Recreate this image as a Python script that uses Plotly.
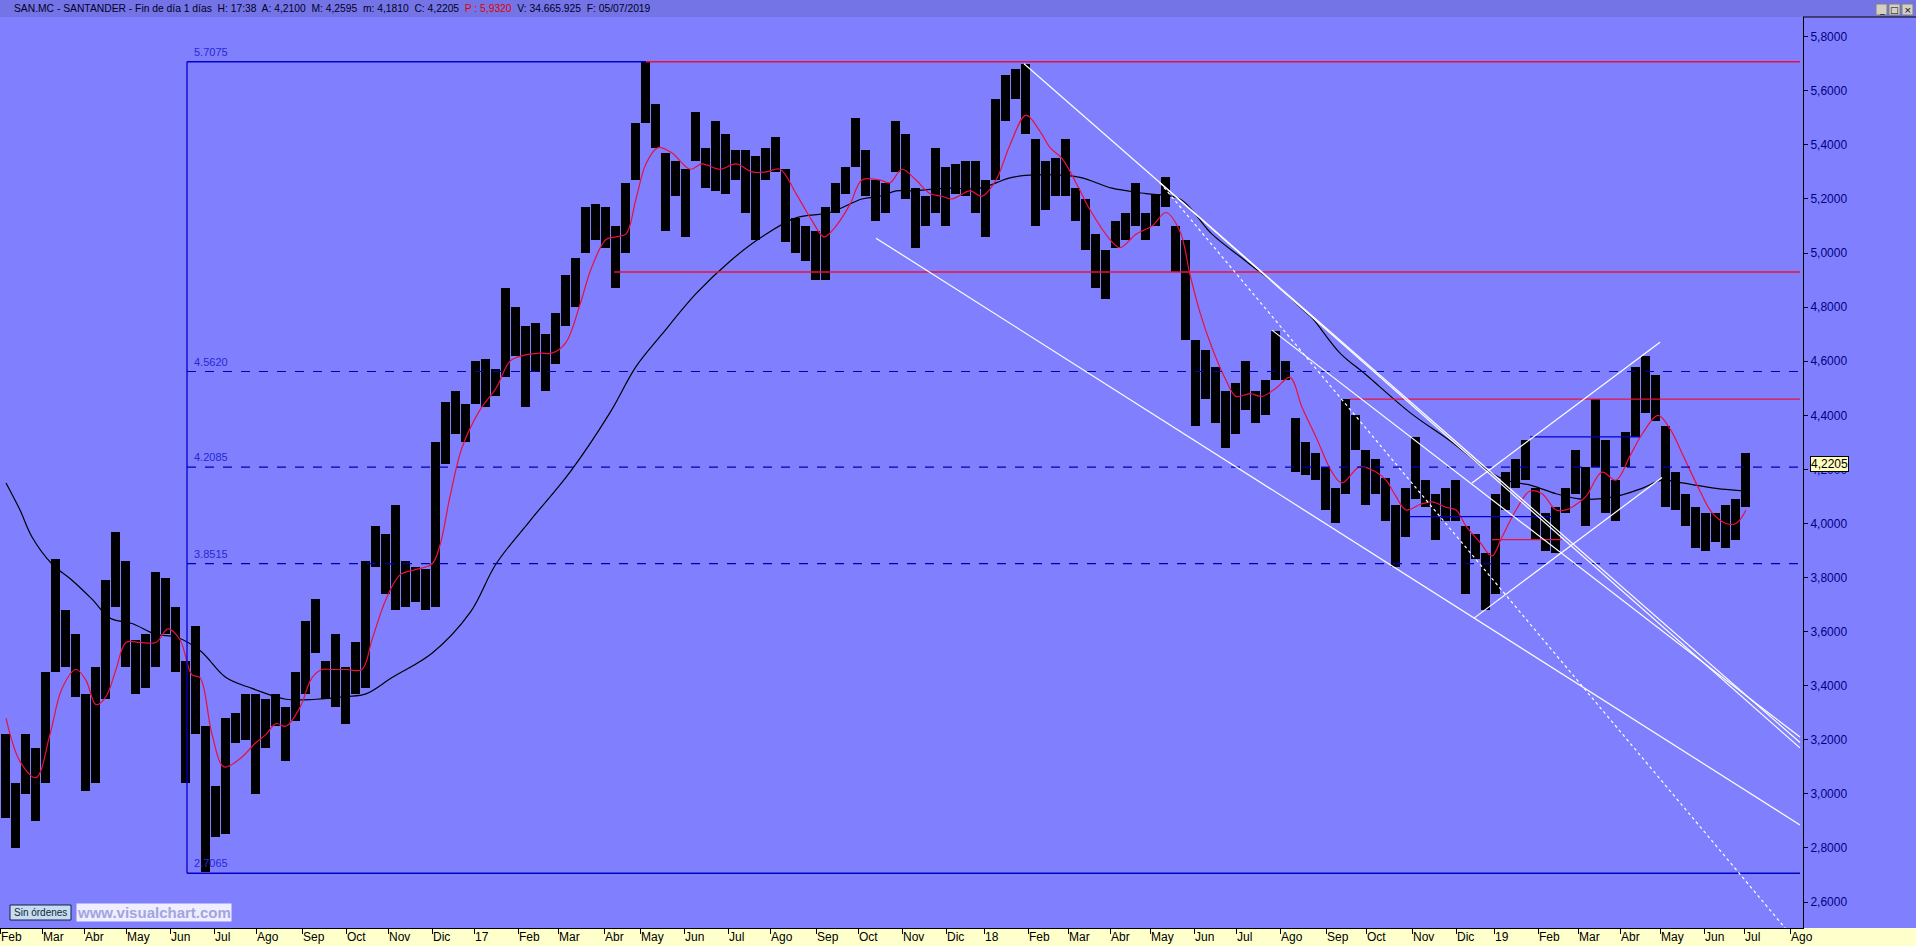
import pandas as pd
import plotly.graph_objects as go
from pandas.tseries.offsets import CustomBusinessDay

# ---------------- calendar (BME trading days) ----------------
first_day = "2016-02-01"
last_axis_day = "2019-08-30"
holidays = ["2016-03-25", "2016-03-28", "2016-12-26",
            "2017-04-14", "2017-04-17", "2017-05-01", "2017-12-25", "2017-12-26",
            "2018-01-01", "2018-03-30", "2018-04-02", "2018-05-01", "2018-12-25", "2018-12-26",
            "2019-01-01", "2019-04-19", "2019-04-22", "2019-05-01"]
month_abbr = ["Ene", "Feb", "Mar", "Abr", "May", "Jun", "Jul", "Ago", "Sep", "Oct", "Nov", "Dic"]

# ---------------- price data: 5-session periods (high / low) ----------------
bars_per_period = 5
period_high = [3.22, 3.04, 3.22, 3.17, 3.45, 3.87, 3.68, 3.59, 3.37, 3.47,
               3.79, 3.97, 3.86, 3.57, 3.59, 3.82, 3.80, 3.69, 3.49, 3.62,
               3.25, 3.03, 3.28, 3.30, 3.37, 3.37, 3.35, 3.37, 3.32, 3.45,
               3.64, 3.72, 3.49, 3.59, 3.47, 3.56, 3.86, 3.99, 3.96, 4.07,
               3.86, 3.84, 3.83, 4.30, 4.45, 4.49, 4.44, 4.60, 4.61, 4.57,
               4.87, 4.80, 4.73, 4.74, 4.70, 4.78, 4.92, 4.98, 5.17, 5.18,
               5.17, 5.10, 5.26, 5.48, 5.71, 5.55, 5.37, 5.34, 5.31, 5.52,
               5.39, 5.49, 5.44, 5.38, 5.38, 5.36, 5.39, 5.43, 5.31, 5.13,
               5.10, 5.08, 5.17, 5.26, 5.32, 5.50, 5.38, 5.27, 5.26, 5.49,
               5.44, 5.24, 5.21, 5.39, 5.32, 5.33, 5.34, 5.34, 5.27, 5.57,
               5.66, 5.68, 5.70, 5.42, 5.34, 5.35, 5.42, 5.24, 5.20, 5.07,
               5.01, 5.12, 5.15, 5.26, 5.15, 5.22, 5.28, 5.10, 5.05, 4.68,
               4.64, 4.58, 4.49, 4.52, 4.60, 4.49, 4.53, 4.71, 4.60, 4.39,
               4.30, 4.26, 4.21, 4.13, 4.46, 4.40, 4.27, 4.24, 4.17, 4.07,
               4.13, 4.32, 4.16, 4.11, 4.13, 4.16, 3.99, 3.96, 3.89, 4.11,
               4.19, 4.24, 4.31, 4.13, 4.04, 4.06, 4.13, 4.27, 4.21, 4.46,
               4.31, 4.16, 4.34, 4.58, 4.62, 4.55, 4.36, 4.19, 4.11, 4.06,
               4.04, 4.04, 4.07, 4.09, 4.26]
period_low = [2.91, 2.80, 3.00, 2.90, 3.04, 3.45, 3.47, 3.36, 3.01, 3.04,
              3.35, 3.69, 3.47, 3.37, 3.39, 3.47, 3.59, 3.45, 3.04, 3.22,
              2.71, 2.84, 2.85, 3.19, 3.20, 3.00, 3.17, 3.25, 3.12, 3.27,
              3.37, 3.52, 3.35, 3.32, 3.26, 3.37, 3.39, 3.84, 3.74, 3.68,
              3.69, 3.71, 3.68, 3.69, 4.22, 4.33, 4.30, 4.44, 4.43, 4.47,
              4.54, 4.62, 4.43, 4.56, 4.49, 4.59, 4.73, 4.80, 5.00, 5.05,
              5.02, 4.87, 5.00, 5.27, 5.48, 5.39, 5.08, 5.21, 5.06, 5.34,
              5.24, 5.23, 5.22, 5.27, 5.15, 5.05, 5.27, 5.30, 5.04, 5.00,
              4.97, 4.90, 4.90, 5.15, 5.22, 5.32, 5.21, 5.12, 5.15, 5.30,
              5.20, 5.02, 5.10, 5.15, 5.10, 5.22, 5.21, 5.15, 5.06, 5.27,
              5.49, 5.57, 5.44, 5.10, 5.16, 5.21, 5.21, 5.12, 5.01, 4.87,
              4.83, 5.02, 5.05, 5.10, 5.05, 5.10, 5.17, 4.93, 4.68, 4.36,
              4.46, 4.37, 4.28, 4.33, 4.42, 4.37, 4.40, 4.53, 4.53, 4.19,
              4.18, 4.16, 4.05, 4.00, 4.11, 4.27, 4.07, 4.11, 4.01, 3.84,
              3.95, 4.09, 4.06, 3.94, 4.01, 4.01, 3.74, 3.87, 3.68, 3.74,
              4.05, 4.13, 4.16, 3.94, 3.90, 3.89, 4.04, 4.11, 3.99, 4.21,
              4.04, 4.01, 4.21, 4.32, 4.41, 4.38, 4.06, 4.05, 3.99, 3.91,
              3.90, 3.93, 3.91, 3.94, 4.06]

# ---------------- moving averages (session number, value) ----------------
ma_fast_bar = [3, 10, 18, 25, 31, 38, 43, 48, 53, 58, 63, 70, 78, 84, 90, 96, 100, 106, 112, 120,
               128, 133, 138, 143, 150, 156, 161, 166, 173, 181, 186, 193, 200, 208, 216, 220, 225,
               231, 240, 248, 255, 261, 270, 276, 283, 290, 296, 303, 308, 313, 318, 323, 329, 336,
               345, 351, 360, 368, 376, 383, 390, 398, 406, 412, 418, 425, 431, 440, 445, 451, 458,
               465, 471, 476, 485, 491, 498, 505, 513, 520, 525, 531, 538, 545, 555, 560, 568, 576,
               583, 590, 595, 600, 606, 613, 618, 625, 631, 638, 645, 651, 658, 666, 671, 680, 688,
               693, 698, 703, 710, 716, 723, 728, 733, 740, 746, 751, 758, 765, 771, 778, 783, 788,
               793, 801, 808, 815, 821, 829, 835, 841, 850, 856, 863, 868, 873]
ma_fast_val = [3.28, 3.12, 3.06, 3.22, 3.39, 3.46, 3.42, 3.33, 3.36, 3.46, 3.56, 3.56, 3.56, 3.61,
               3.57, 3.44, 3.43, 3.22, 3.10, 3.13, 3.19, 3.22, 3.26, 3.25, 3.32, 3.43, 3.46, 3.46,
               3.46, 3.46, 3.57, 3.72, 3.81, 3.83, 3.85, 3.92, 4.10, 4.28, 4.42, 4.50, 4.60, 4.62,
               4.63, 4.63, 4.67, 4.81, 4.95, 5.05, 5.06, 5.07, 5.20, 5.33, 5.39, 5.37, 5.31, 5.33,
               5.31, 5.33, 5.30, 5.30, 5.31, 5.22, 5.12, 5.06, 5.10, 5.18, 5.27, 5.27, 5.26, 5.31,
               5.27, 5.22, 5.21, 5.20, 5.23, 5.21, 5.27, 5.40, 5.51, 5.45, 5.39, 5.35, 5.26, 5.16,
               5.05, 5.02, 5.07, 5.10, 5.15, 5.08, 4.92, 4.78, 4.65, 4.53, 4.47, 4.48, 4.47, 4.50,
               4.54, 4.43, 4.32, 4.19, 4.15, 4.21, 4.19, 4.16, 4.10, 4.05, 4.07, 4.08, 4.06, 4.05,
               3.99, 3.93, 3.88, 3.95, 4.05, 4.12, 4.11, 4.05, 4.05, 4.07, 4.10, 4.19, 4.16, 4.25,
               4.33, 4.40, 4.35, 4.26, 4.12, 4.04, 4.00, 4.00, 4.05]
ma_slow_bar = [3, 10, 16, 26, 36, 46, 55, 66, 78, 88, 100, 113, 126, 143, 158, 173, 183, 196, 216,
               235, 248, 265, 285, 305, 318, 331, 348, 365, 381, 398, 415, 431, 440, 448, 456, 473,
               490, 506, 523, 540, 556, 573, 590, 606, 623, 640, 650, 656, 670, 683, 705, 726, 743,
               753, 766, 778, 791, 808, 821, 831, 841, 858, 873]
ma_slow_val = [4.15, 4.05, 3.95, 3.85, 3.79, 3.72, 3.65, 3.63, 3.59, 3.58, 3.53, 3.43, 3.39, 3.35,
               3.35, 3.36, 3.37, 3.43, 3.52, 3.67, 3.85, 4.01, 4.19, 4.41, 4.58, 4.70, 4.85, 4.97,
               5.06, 5.13, 5.15, 5.20, 5.21, 5.23, 5.23, 5.24, 5.24, 5.28, 5.29, 5.28, 5.24, 5.22,
               5.20, 5.07, 4.97, 4.87, 4.80, 4.76, 4.63, 4.55, 4.41, 4.30, 4.20, 4.16, 4.14, 4.11,
               4.09, 4.10, 4.13, 4.16, 4.15, 4.13, 4.12]

# ---------------- drawings ----------------
fibo_start_bar = 93.5
fibo_top, fibo_bottom = 5.7075, 2.7065
fibo_top_end_bar = 323
fibo_dashed = [4.5620, 4.2085, 3.8515]
drawing_end_bar = 900
red_levels = [(323, 5.7075), (307, 4.93), (675, 4.46)]
red_short = [(746, 781, 3.94)]
blue_short = [(765, 820, 4.32), (705, 776, 4.025)]
white_lines = [((512, 5.70), (900, 3.19)),
               ((580, 5.26), (900, 3.17)),
               ((636, 4.715), (900, 3.21)),
               ((438, 5.055), (900, 2.885)),
               ((737, 3.65), (831, 4.17)),
               ((736, 4.15), (830, 4.67))]
white_dashed = [((580, 5.26), (893, 2.50))]
last_close = 4.2205

title_text = ("SAN.MC - SANTANDER - Fin de día 1 días  H: 17:38  A: 4,2100  M: 4,2595  "
              "m: 4,1810  C: 4,2205  <span style='color:#E00000'>P : 5,9320</span>  "
              "V: 34.665.925  F: 05/07/2019")

# ---------------- build ----------------
W, H = 1916, 946
ML, MR, MT, MB = 0, 113, 17, 18
PW, PH = W - ML - MR, H - MT - MB

cal = pd.date_range(first_day, last_axis_day, freq=CustomBusinessDay(holidays=holidays))
tickvals, ticktext = [], []
seen = set()
for i, d in enumerate(cal):
    key = (d.year, d.month)
    if key not in seen:
        seen.add(key)
        tickvals.append(i)
        ticktext.append(f"{d.year % 100:02d}" if d.month == 1 else month_abbr[d.month - 1])

px_x = [k * bars_per_period + bars_per_period / 2 for k in range(len(period_high))]
rng = [h - l for h, l in zip(period_high, period_low)]

fig = go.Figure()
fig.add_trace(go.Bar(x=px_x, y=rng, base=period_low, width=bars_per_period * 0.9,
                     marker=dict(color="#000000", line=dict(width=0))))
fig.add_trace(go.Scatter(x=ma_slow_bar, y=ma_slow_val, mode="lines",
                         line=dict(color="#000000", width=1.2, shape="spline")))
fig.add_trace(go.Scatter(x=ma_fast_bar, y=ma_fast_val, mode="lines",
                         line=dict(color="#E8103C", width=1.2, shape="spline")))

shapes = []
def seg(x0, y0, x1, y1, color, width=1.0, dash="solid"):
    shapes.append(dict(type="line", xref="x", yref="y", x0=x0, y0=y0, x1=x1, y1=y1,
                       line=dict(color=color, width=width, dash=dash), layer="above"))

blue = "#0000C8"
seg(fibo_start_bar, fibo_bottom, fibo_start_bar, fibo_top, blue, 1.3)
seg(fibo_start_bar, fibo_top, fibo_top_end_bar, fibo_top, blue, 1.3)
seg(fibo_start_bar, fibo_bottom, drawing_end_bar, fibo_bottom, blue, 1.3)
for lv in fibo_dashed:
    seg(fibo_start_bar, lv, PW / 2.0, lv, "#0000B0", 1.2, "dash")
for x0, lv in red_levels:
    seg(x0, lv, drawing_end_bar, lv, "#E8103C", 1.3)
for x0, x1, lv in red_short:
    seg(x0, lv, x1, lv, "#E8103C", 1.3)
for x0, x1, lv in blue_short:
    seg(x0, lv, x1, lv, blue, 1.3)
for (a, b) in white_lines:
    seg(a[0], a[1], b[0], b[1], "#FFFFFF", 1.2)
for (a, b) in white_dashed:
    seg(a[0], a[1], b[0], b[1], "#FFFFFF", 1.2, "3px,3px")

# paper-level decorations
def pxx(px):
    return (px - ML) / PW
def pxy(py):
    return (H - MB - py) / PH

shapes.append(dict(type="rect", xref="paper", yref="paper", x0=pxx(0), x1=pxx(W), y0=pxy(H), y1=pxy(H - MB),
                   fillcolor="#FFFFCC", line=dict(width=0), layer="below"))
shapes.append(dict(type="rect", xref="paper", yref="paper", x0=pxx(0), x1=pxx(W), y0=pxy(MT), y1=pxy(0),
                   fillcolor="#7474E6", line=dict(width=0), layer="below"))
shapes.append(dict(type="line", xref="paper", yref="paper", x0=pxx(ML + PW), x1=pxx(W), y0=pxy(MT), y1=pxy(MT),
                   line=dict(color="#000000", width=1)))
for bx in (1876, 1889, 1902):
    shapes.append(dict(type="rect", xref="paper", yref="paper", x0=pxx(bx), x1=pxx(bx + 11), y0=pxy(15), y1=pxy(4),
                       fillcolor="#D4D0C8", line=dict(color="#808080", width=1)))
shapes.append(dict(type="rect", xref="paper", yref="paper", x0=pxx(10), x1=pxx(71), y0=pxy(920), y1=pxy(905),
                   fillcolor="#C8DCF0", line=dict(color="#102040", width=1)))

annotations = []
annotations.append(dict(xref="paper", yref="paper", x=pxx(12), y=pxy(8.5), xanchor="left", yanchor="middle",
                        text=title_text, showarrow=False,
                        font=dict(family="Liberation Sans, Arial", size=10.3, color="#000028")))
for bx, sym in ((1876, "_"), (1889, "□"), (1902, "×")):
    annotations.append(dict(xref="paper", yref="paper", x=pxx(bx + 5.5), y=pxy(9.5), xanchor="center",
                            yanchor="middle", text=sym, showarrow=False,
                            font=dict(family="DejaVu Sans", size=9, color="#000000")))
for lv in [fibo_top] + fibo_dashed + [fibo_bottom]:
    annotations.append(dict(xref="x", yref="y", x=fibo_start_bar + 2.5, y=lv, xanchor="left", yanchor="bottom",
                            yshift=2, text=f"{lv:.4f}", showarrow=False,
                            font=dict(family="Liberation Sans, Arial", size=11, color="#2828D0")))
annotations.append(dict(xref="paper", yref="y", x=pxx(ML + PW + 7), y=last_close, xanchor="left", yanchor="middle",
                        text=f"{last_close:.4f}".replace(".", ","), showarrow=False, bgcolor="#FFFFC0",
                        bordercolor="#000000", borderwidth=1, borderpad=0,
                        font=dict(family="Liberation Sans, Arial", size=12, color="#000000")))
annotations.append(dict(xref="paper", yref="paper", x=pxx(40.5), y=pxy(912.5), xanchor="center", yanchor="middle",
                        text="Sin órdenes", showarrow=False,
                        font=dict(family="Liberation Sans, Arial", size=10, color="#0A2A3A")))
annotations.append(dict(xref="paper", yref="paper", x=pxx(76), y=pxy(912), xanchor="left", yanchor="middle",
                        text="<b>www.visualchart.com</b>", showarrow=False, bgcolor="#EEEEFF", borderpad=0,
                        font=dict(family="Liberation Sans, Arial", size=15, color="#A4A4E0")))

fig.update_layout(
    width=W, height=H, margin=dict(l=ML, r=MR, t=MT, b=MB, pad=0, autoexpand=False),
    paper_bgcolor="#8080FF", plot_bgcolor="#8080FF", showlegend=False,
    separators=",.", hovermode=False, bargap=0,
    shapes=shapes, annotations=annotations,
    xaxis=dict(range=[0, PW / 2.0], tickmode="array", tickvals=tickvals, ticktext=ticktext,
               automargin=False,
               ticks="outside", ticklen=5, tickcolor="#000000", tickwidth=1,
               ticklabelposition="outside right", ticklabelstandoff=-2, showgrid=False, zeroline=False,
               showline=True, linecolor="#000000", linewidth=1,
               tickfont=dict(family="Liberation Sans, Arial", size=12, color="#000000")),
    yaxis=dict(range=[2.504, 5.873], side="right", tickmode="array", automargin=False,
               tickvals=[2.6, 2.8, 3.0, 3.2, 3.4, 3.6, 3.8, 4.0, 4.2, 4.4, 4.6, 4.8, 5.0, 5.2, 5.4, 5.6, 5.8],
               tickformat=".4f", ticks="outside", ticklen=4, tickcolor="#000000",
               showgrid=False, zeroline=False, showline=True, linecolor="#000000", linewidth=1,
               tickfont=dict(family="Liberation Sans, Arial", size=12, color="#000080")),
)
fig.write_html("out.html", config={"displayModeBar": False},
               post_script="document.body.style.margin='0';document.body.style.overflow='hidden';")
